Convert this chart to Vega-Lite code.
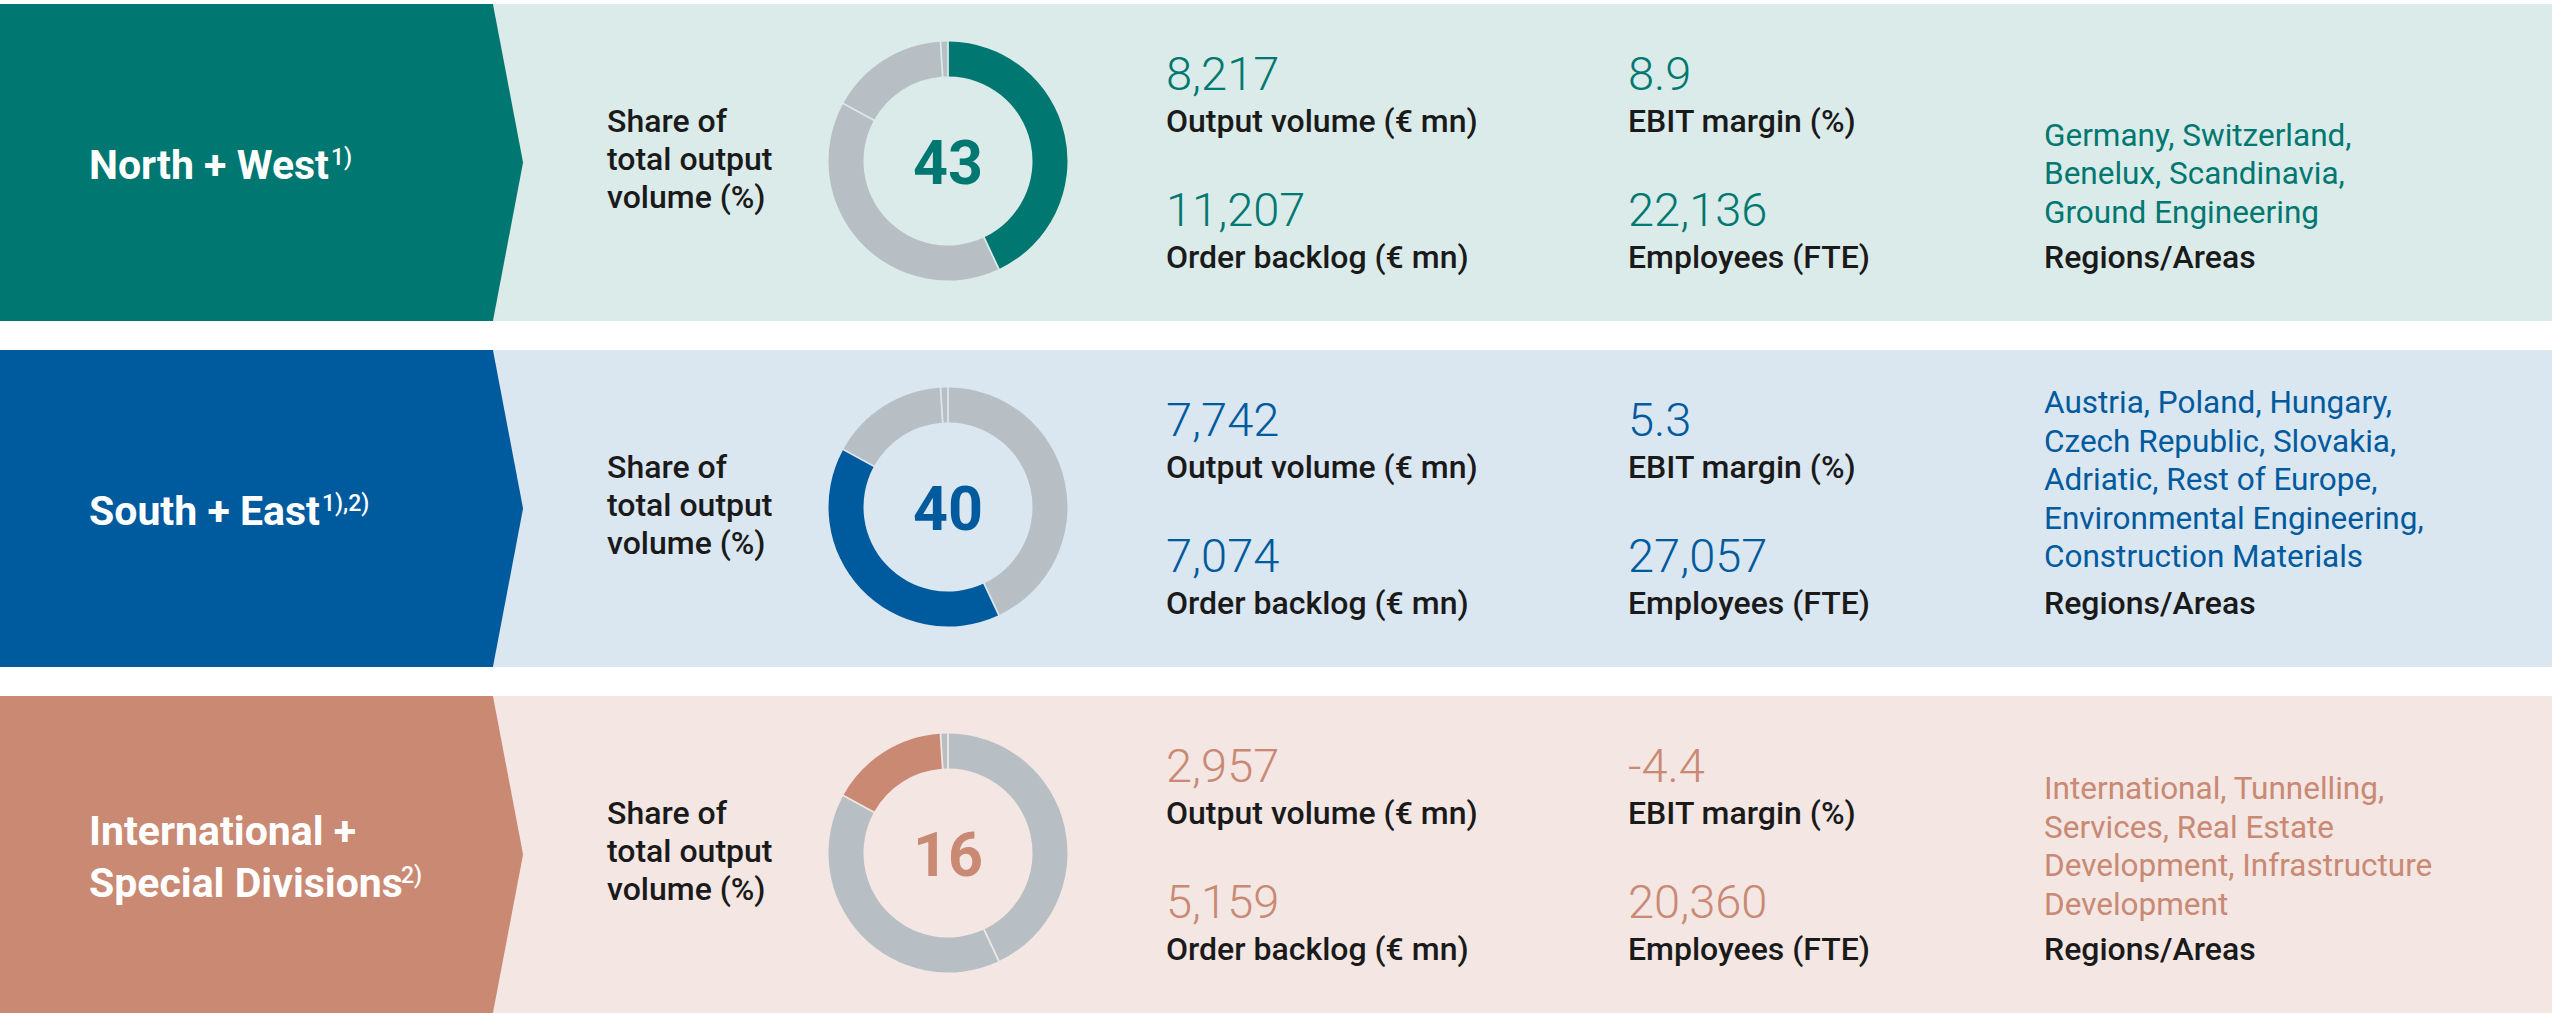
{
  "$schema": "https://vega.github.io/schema/vega-lite/v6.json",
  "background": "#ffffff",
  "padding": {"left": 0, "top": 4, "right": 0, "bottom": 0},
  "bounds": "flush",
  "config": {
    "view": {"stroke": null},
    "font": "Roboto",
    "locale": {"number": {"decimal": ".", "thousands": ",", "grouping": [3], "currency": ["", "€"], "minus": "-"}}
  },
  "data": {
    "values": [
      {"kind": "segment", "segment": "North + West", "title": ["North + West"], "note": "1)", "share": 43, "output": 8217, "ebit": 8.9, "backlog": 11207, "employees": 22136, "regions": ["Germany, Switzerland,", "Benelux, Scandinavia,", "Ground Engineering"]},
      {"kind": "segment", "segment": "South + East", "title": ["South + East"], "note": "1),2)", "share": 40, "output": 7742, "ebit": 5.3, "backlog": 7074, "employees": 27057, "regions": ["Austria, Poland, Hungary,", "Czech Republic, Slovakia,", "Adriatic, Rest of Europe,", "Environmental Engineering,", "Construction Materials"]},
      {"kind": "segment", "segment": "International + Special Divisions", "title": ["International +", "Special Divisions"], "note": "2)", "share": 16, "output": 2957, "ebit": -4.4, "backlog": 5159, "employees": 20360, "regions": ["International, Tunnelling,", "Services, Real Estate", "Development, Infrastructure", "Development"]},
      {"kind": "slice", "segment": "North + West", "slice": "North + West", "rank": 1, "pct": 43},
      {"kind": "slice", "segment": "North + West", "slice": "South + East", "rank": 2, "pct": 40},
      {"kind": "slice", "segment": "North + West", "slice": "International + Special Divisions", "rank": 3, "pct": 16},
      {"kind": "slice", "segment": "North + West", "slice": "Other", "rank": 4, "pct": 1},
      {"kind": "slice", "segment": "South + East", "slice": "North + West", "rank": 1, "pct": 43},
      {"kind": "slice", "segment": "South + East", "slice": "South + East", "rank": 2, "pct": 40},
      {"kind": "slice", "segment": "South + East", "slice": "International + Special Divisions", "rank": 3, "pct": 16},
      {"kind": "slice", "segment": "South + East", "slice": "Other", "rank": 4, "pct": 1},
      {"kind": "slice", "segment": "International + Special Divisions", "slice": "North + West", "rank": 1, "pct": 43},
      {"kind": "slice", "segment": "International + Special Divisions", "slice": "South + East", "rank": 2, "pct": 40},
      {"kind": "slice", "segment": "International + Special Divisions", "slice": "International + Special Divisions", "rank": 3, "pct": 16},
      {"kind": "slice", "segment": "International + Special Divisions", "slice": "Other", "rank": 4, "pct": 1}
    ]
  },
  "facet": {
    "row": {"field": "segment", "type": "nominal", "header": null, "sort": ["North + West", "South + East", "International + Special Divisions"]}
  },
  "spacing": {"row": 29},
  "spec": {
    "width": 2552,
    "height": 317,
    "layer": [
      {
        "transform": [{"filter": "datum.kind === 'segment'"}],
        "mark": {"type": "rect"},
        "encoding": {
          "x": {"datum": 493, "type": "quantitative", "scale": {"domain": [0, 2552], "nice": false, "zero": false}, "axis": null},
          "x2": {"datum": 2552},
          "y": {"datum": 0, "type": "quantitative", "scale": {"domain": [0, 317], "reverse": true, "nice": false, "zero": false}, "axis": null},
          "y2": {"datum": 317},
          "fill": {"field": "segment", "type": "nominal", "scale": {"domain": ["North + West", "South + East", "International + Special Divisions"], "range": ["#DBEBE9", "#DAE6F0", "#F3E6E3"]}, "legend": null}
        }
      },
      {
        "transform": [{"filter": "datum.kind === 'segment'"}],
        "mark": {"type": "point", "shape": "M0,-1L3.11,-1L3.3,0L3.11,1L0,1Z", "filled": true, "opacity": 1, "size": 100489, "strokeWidth": 0},
        "encoding": {
          "x": {"datum": 0, "type": "quantitative", "axis": null},
          "y": {"datum": 158.5, "type": "quantitative", "axis": null},
          "color": {"field": "segment", "type": "nominal", "scale": {"domain": ["North + West", "South + East", "International + Special Divisions"], "range": ["#007871", "#005A9E", "#C98973"]}, "legend": null}
        }
      },
      {
        "transform": [{"filter": "datum.kind === 'segment' && datum.segment !== 'International + Special Divisions'"}],
        "mark": {"type": "text", "align": "left", "baseline": "alphabetic", "fontSize": 41, "fontWeight": "bold", "color": "#ffffff", "lineHeight": 52},
        "encoding": {
          "x": {"datum": 89, "type": "quantitative", "axis": null},
          "y": {"datum": 175, "type": "quantitative", "axis": null},
          "text": {"field": "title"}
        }
      },
      {
        "transform": [{"filter": "datum.kind === 'segment' && datum.segment === 'International + Special Divisions'"}],
        "mark": {"type": "text", "align": "left", "baseline": "alphabetic", "fontSize": 41, "fontWeight": "bold", "color": "#ffffff", "lineHeight": 52},
        "encoding": {
          "x": {"datum": 89, "type": "quantitative", "axis": null},
          "y": {"datum": 149, "type": "quantitative", "axis": null},
          "text": {"field": "title"}
        }
      },
      {
        "transform": [{"filter": "datum.kind === 'segment' && datum.segment === 'North + West'"}],
        "mark": {"type": "text", "align": "left", "baseline": "top", "fontSize": 23, "fontWeight": 500, "color": "#ffffff"},
        "encoding": {
          "x": {"datum": 331, "type": "quantitative", "axis": null},
          "y": {"datum": 143, "type": "quantitative", "axis": null},
          "text": {"field": "note"}
        }
      },
      {
        "transform": [{"filter": "datum.kind === 'segment' && datum.segment === 'South + East'"}],
        "mark": {"type": "text", "align": "left", "baseline": "top", "fontSize": 23, "fontWeight": 500, "color": "#ffffff"},
        "encoding": {
          "x": {"datum": 322, "type": "quantitative", "axis": null},
          "y": {"datum": 143, "type": "quantitative", "axis": null},
          "text": {"field": "note"}
        }
      },
      {
        "transform": [{"filter": "datum.kind === 'segment' && datum.segment === 'International + Special Divisions'"}],
        "mark": {"type": "text", "align": "left", "baseline": "top", "fontSize": 23, "fontWeight": 500, "color": "#ffffff"},
        "encoding": {
          "x": {"datum": 401, "type": "quantitative", "axis": null},
          "y": {"datum": 169, "type": "quantitative", "axis": null},
          "text": {"field": "note"}
        }
      },
      {
        "transform": [{"filter": "datum.kind === 'segment'"}],
        "mark": {"type": "text", "align": "left", "baseline": "alphabetic", "fontSize": 32, "fontWeight": 500, "color": "#1a1a1a", "lineHeight": 38, "text": ["Share of", "total output", "volume (%)"]},
        "encoding": {
          "x": {"datum": 607, "type": "quantitative", "axis": null},
          "y": {"datum": 128, "type": "quantitative", "axis": null}
        }
      },
      {
        "transform": [{"filter": "datum.kind === 'slice'"}],
        "mark": {"type": "arc", "radius": 119.5, "radius2": 84.5, "padAngle": 0.012},
        "encoding": {
          "x": {"datum": 948, "type": "quantitative", "axis": null},
          "y": {"datum": 157, "type": "quantitative", "axis": null},
          "theta": {"field": "pct", "type": "quantitative", "stack": true},
          "order": {"field": "rank", "type": "quantitative"},
          "color": {"condition": {"test": "datum.slice === datum.segment", "field": "segment", "type": "nominal", "legend": null}, "value": "#B7BFC5"}
        }
      },
      {
        "transform": [{"filter": "datum.kind === 'segment'"}],
        "mark": {"type": "text", "align": "center", "baseline": "alphabetic", "fontSize": 61, "fontWeight": "bold"},
        "encoding": {
          "x": {"datum": 948, "type": "quantitative", "axis": null},
          "y": {"datum": 180, "type": "quantitative", "axis": null},
          "text": {"field": "share", "type": "quantitative", "format": "d"},
          "color": {"field": "segment", "type": "nominal", "legend": null}
        }
      },
      {
        "transform": [{"filter": "datum.kind === 'segment'"}],
        "mark": {"type": "text", "align": "left", "baseline": "alphabetic", "fontSize": 47, "fontWeight": 300},
        "encoding": {
          "x": {"datum": 1166, "type": "quantitative", "axis": null},
          "y": {"datum": 86, "type": "quantitative", "axis": null},
          "text": {"field": "output", "type": "quantitative", "format": ","},
          "color": {"field": "segment", "type": "nominal", "legend": null}
        }
      },
      {
        "transform": [{"filter": "datum.kind === 'segment'"}],
        "mark": {"type": "text", "align": "left", "baseline": "alphabetic", "fontSize": 47, "fontWeight": 300},
        "encoding": {
          "x": {"datum": 1166, "type": "quantitative", "axis": null},
          "y": {"datum": 222, "type": "quantitative", "axis": null},
          "text": {"field": "backlog", "type": "quantitative", "format": ","},
          "color": {"field": "segment", "type": "nominal", "legend": null}
        }
      },
      {
        "transform": [{"filter": "datum.kind === 'segment'"}],
        "mark": {"type": "text", "align": "left", "baseline": "alphabetic", "fontSize": 47, "fontWeight": 300},
        "encoding": {
          "x": {"datum": 1628, "type": "quantitative", "axis": null},
          "y": {"datum": 86, "type": "quantitative", "axis": null},
          "text": {"field": "ebit", "type": "quantitative", "format": ".1f"},
          "color": {"field": "segment", "type": "nominal", "legend": null}
        }
      },
      {
        "transform": [{"filter": "datum.kind === 'segment'"}],
        "mark": {"type": "text", "align": "left", "baseline": "alphabetic", "fontSize": 47, "fontWeight": 300},
        "encoding": {
          "x": {"datum": 1628, "type": "quantitative", "axis": null},
          "y": {"datum": 222, "type": "quantitative", "axis": null},
          "text": {"field": "employees", "type": "quantitative", "format": ","},
          "color": {"field": "segment", "type": "nominal", "legend": null}
        }
      },
      {
        "transform": [{"filter": "datum.kind === 'segment'"}],
        "mark": {"type": "text", "align": "left", "baseline": "alphabetic", "fontSize": 32, "fontWeight": 500, "color": "#1a1a1a", "text": "Output volume (€ mn)"},
        "encoding": {
          "x": {"datum": 1166, "type": "quantitative", "axis": null},
          "y": {"datum": 128, "type": "quantitative", "axis": null}
        }
      },
      {
        "transform": [{"filter": "datum.kind === 'segment'"}],
        "mark": {"type": "text", "align": "left", "baseline": "alphabetic", "fontSize": 32, "fontWeight": 500, "color": "#1a1a1a", "text": "Order backlog (€ mn)"},
        "encoding": {
          "x": {"datum": 1166, "type": "quantitative", "axis": null},
          "y": {"datum": 263.5, "type": "quantitative", "axis": null}
        }
      },
      {
        "transform": [{"filter": "datum.kind === 'segment'"}],
        "mark": {"type": "text", "align": "left", "baseline": "alphabetic", "fontSize": 32, "fontWeight": 500, "color": "#1a1a1a", "text": "EBIT margin (%)"},
        "encoding": {
          "x": {"datum": 1628, "type": "quantitative", "axis": null},
          "y": {"datum": 128, "type": "quantitative", "axis": null}
        }
      },
      {
        "transform": [{"filter": "datum.kind === 'segment'"}],
        "mark": {"type": "text", "align": "left", "baseline": "alphabetic", "fontSize": 32, "fontWeight": 500, "color": "#1a1a1a", "text": "Employees (FTE)"},
        "encoding": {
          "x": {"datum": 1628, "type": "quantitative", "axis": null},
          "y": {"datum": 263.5, "type": "quantitative", "axis": null}
        }
      },
      {
        "transform": [{"filter": "datum.kind === 'segment'"}],
        "mark": {"type": "text", "align": "left", "baseline": "alphabetic", "fontSize": 32, "fontWeight": 500, "color": "#1a1a1a", "text": "Regions/Areas"},
        "encoding": {
          "x": {"datum": 2044, "type": "quantitative", "axis": null},
          "y": {"datum": 263.5, "type": "quantitative", "axis": null}
        }
      },
      {
        "transform": [{"filter": "datum.kind === 'segment' && datum.segment === 'North + West'"}],
        "mark": {"type": "text", "align": "left", "baseline": "alphabetic", "fontSize": 31.5, "fontWeight": 400, "lineHeight": 38.5},
        "encoding": {
          "x": {"datum": 2044, "type": "quantitative", "axis": null},
          "y": {"datum": 141.5, "type": "quantitative", "axis": null},
          "text": {"field": "regions"},
          "color": {"field": "segment", "type": "nominal", "legend": null}
        }
      },
      {
        "transform": [{"filter": "datum.kind === 'segment' && datum.segment === 'South + East'"}],
        "mark": {"type": "text", "align": "left", "baseline": "alphabetic", "fontSize": 31.5, "fontWeight": 400, "lineHeight": 38.5},
        "encoding": {
          "x": {"datum": 2044, "type": "quantitative", "axis": null},
          "y": {"datum": 63, "type": "quantitative", "axis": null},
          "text": {"field": "regions"},
          "color": {"field": "segment", "type": "nominal", "legend": null}
        }
      },
      {
        "transform": [{"filter": "datum.kind === 'segment' && datum.segment === 'International + Special Divisions'"}],
        "mark": {"type": "text", "align": "left", "baseline": "alphabetic", "fontSize": 31.5, "fontWeight": 400, "lineHeight": 38.5},
        "encoding": {
          "x": {"datum": 2044, "type": "quantitative", "axis": null},
          "y": {"datum": 103, "type": "quantitative", "axis": null},
          "text": {"field": "regions"},
          "color": {"field": "segment", "type": "nominal", "legend": null}
        }
      }
    ]
  }
}
